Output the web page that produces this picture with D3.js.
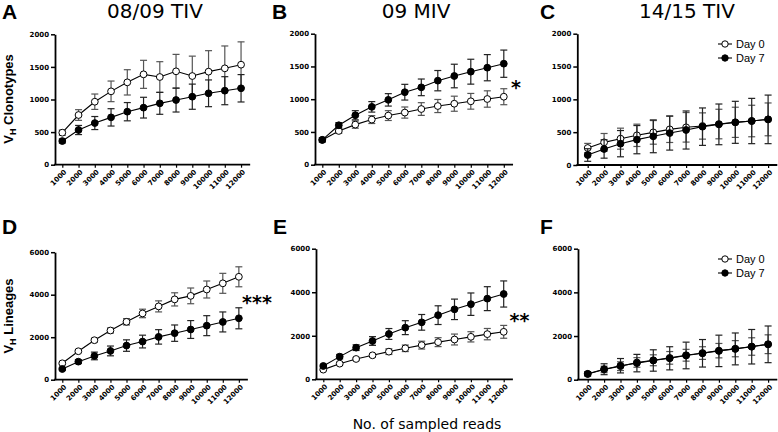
<!DOCTYPE html>
<html>
<head>
<meta charset="utf-8">
<script src="https://cdn.jsdelivr.net/npm/d3@7"></script>
<style>
  html, body { margin: 0; padding: 0; background: #fff; }
  svg { display: block; }
</style>
</head>
<body>
<svg id="chart" width="778" height="432"></svg>
<script>
// ---------------- DATA ----------------
const reads = ["1000","2000","3000","4000","5000","6000","7000","8000","9000","10000","11000","12000"];
const seriesNames = ["Day 0", "Day 7"];

const titles = ["08/09 TIV", "09 MIV", "14/15 TIV"];
const panelLetters = ["A", "B", "C", "D", "E", "F"];
const yLabelTop = "Clonotypes";
const yLabelBottom = "Lineages";
const xTitle = "No. of sampled reads";

const yTicksTop = [0, 500, 1000, 1500, 2000];
const yTicksBottom = [0, 2000, 4000, 6000];

// Panel A (08/09 TIV, clonotypes)
const aDay0    = [491, 762, 966, 1125, 1263, 1386, 1345, 1432, 1360, 1427, 1478, 1534];
const aDay0Err = [40, 82, 118, 158, 194, 215, 235, 260, 305, 322, 343, 350];
const aDay7    = [363, 532, 639, 726, 813, 875, 941, 992, 1043, 1095, 1135, 1172];
const aDay7Err = [30, 70, 100, 133, 140, 159, 168, 184, 193, 205, 215, 210];

// Panel B (09 MIV, clonotypes)
const bDay0    = [377, 515, 612, 689, 750, 796, 850, 896, 931, 968, 1003, 1038];
const bDay0Err = [30, 35, 55, 60, 75, 85, 97, 100, 115, 120, 125, 122];
const bDay7    = [380, 602, 755, 883, 990, 1107, 1181, 1283, 1354, 1420, 1481, 1542];
const bDay7Err = [30, 40, 70, 80, 95, 120, 127, 155, 180, 190, 200, 208];

// Panel C (14/15 TIV, clonotypes)
const cDay0    = [259, 345, 401, 452, 497, 543, 574, 594, 624, 650, 670, 695];
const cDay0Err = [70, 135, 160, 170, 180, 200, 225, 200, 225, 230, 240, 250];
const cDay7    = [152, 244, 325, 386, 437, 487, 533, 584, 619, 650, 670, 695];
const cDay7Err = [96, 140, 200, 215, 250, 260, 290, 285, 310, 320, 345, 370];

// Panel D (08/09 TIV, lineages)
const dDay0    = [772, 1339, 1858, 2315, 2724, 3118, 3450, 3780, 3945, 4245, 4535, 4843];
const dDay0Err = [50, 60, 90, 120, 150, 200, 260, 310, 370, 400, 470, 470];
const dDay7    = [504, 850, 1118, 1354, 1606, 1795, 2015, 2190, 2362, 2543, 2718, 2890];
const dDay7Err = [60, 90, 180, 230, 270, 300, 340, 385, 420, 470, 470, 495];

// Panel E (09 MIV, lineages)
const eDay0    = [444, 719, 934, 1102, 1270, 1424, 1570, 1707, 1828, 1951, 2075, 2181];
const eDay0Err = [40, 60, 70, 80, 130, 150, 180, 205, 250, 235, 260, 295];
const eDay7    = [612, 1041, 1454, 1760, 2082, 2373, 2617, 2947, 3214, 3451, 3705, 3919];
const eDay7Err = [60, 100, 130, 200, 250, 320, 360, 430, 470, 515, 550, 600];

// Panel F (14/15 TIV, lineages)
const fDay0    = [260, 470, 620, 790, 890, 1000, 1120, 1220, 1330, 1420, 1520, 1625];
const fDay0Err = [50, 150, 200, 220, 250, 290, 270, 290, 330, 370, 400, 430];
const fDay7    = [270, 480, 640, 760, 880, 980, 1110, 1210, 1320, 1410, 1510, 1620];
const fDay7Err = [100, 250, 330, 400, 490, 530, 610, 630, 720, 730, 790, 840];

const significance = ["", "*", "", "***", "**", ""];

// ---------------- LAYOUT ----------------
const panels = [
  { d0: aDay0, e0: aDay0Err, d7: aDay7, e7: aDay7Err, ax: 55,    x0: 62.3,  step: 16.25, yTop: 34.3,  yBot: 164.7, max: 2000, ticks: yTicksTop },
  { d0: bDay0, e0: bDay0Err, d7: bDay7, e7: bDay7Err, ax: 315,   x0: 322.3, step: 16.5,  yTop: 33.7,  yBot: 164.7, max: 2000, ticks: yTicksTop },
  { d0: cDay0, e0: cDay0Err, d7: cDay7, e7: cDay7Err, ax: 577.3, x0: 587.7, step: 16.4,  yTop: 33.7,  yBot: 165,   max: 2000, ticks: yTicksTop },
  { d0: dDay0, e0: dDay0Err, d7: dDay7, e7: dDay7Err, ax: 55,    x0: 62.3,  step: 16.05, yTop: 252.2, yBot: 379.7, max: 6000, ticks: yTicksBottom },
  { d0: eDay0, e0: eDay0Err, d7: eDay7, e7: eDay7Err, ax: 316,   x0: 323.3, step: 16.4,  yTop: 248.7, yBot: 379.3, max: 6000, ticks: yTicksBottom },
  { d0: fDay0, e0: fDay0Err, d7: fDay7, e7: fDay7Err, ax: 578,   x0: 587.7, step: 16.4,  yTop: 248.7, yBot: 379.7, max: 6000, ticks: yTicksBottom }
];
const letterPos = [[2, 19], [272, 19], [540, 19], [2, 234], [273, 234], [540, 234]];
const titlePos = [[155, 18], [416, 18], [687, 18]];
const sigPos = [null, [516, 94], null, [257, 309], [519.5, 326.5], null];
const legendPos = [null, null, [725, 44], null, null, [725, 259]];

const svg = d3.select("#chart");
const tickFont = "'DejaVu Sans', sans-serif";

panels.forEach((p, i) => {
  const g = svg.append("g");
  const xLast = p.x0 + p.step * (reads.length - 1);
  const x = d3.scalePoint().domain(reads).range([p.x0, xLast]);
  const y = d3.scaleLinear().domain([0, p.max]).range([p.yBot, p.yTop]);

  // Y axis
  const yAxis = g.append("g").attr("transform", `translate(${p.ax},0)`)
    .call(d3.axisLeft(y).tickValues(p.ticks).tickSize(4).tickSizeOuter(0).tickPadding(2).tickFormat(d3.format("d")));
  yAxis.select(".domain").attr("stroke", "#000").attr("stroke-width", 1.8);
  yAxis.selectAll(".tick line").attr("stroke", "#000").attr("stroke-width", 1.5);
  yAxis.selectAll(".tick text").attr("font-family", tickFont).attr("font-weight", "bold")
    .attr("font-size", 7).attr("fill", "#000");

  // X axis
  const xAxis = g.append("g").attr("transform", `translate(0,${p.yBot})`)
    .call(d3.axisBottom(x).tickSize(3).tickSizeOuter(0));
  xAxis.select(".domain").remove();
  xAxis.selectAll(".tick line").attr("stroke", "#000").attr("stroke-width", 1.2);
  xAxis.selectAll(".tick text")
    .attr("font-family", tickFont).attr("font-weight", "bold").attr("font-size", 7).attr("fill", "#000")
    .attr("text-anchor", "end").attr("y", 0).attr("dy", "0.35em")
    .attr("transform", "translate(2.5,6) rotate(-45)");
  g.append("line")
    .attr("x1", p.ax - 0.9).attr("x2", Math.min(778, xLast + p.step / 2 + 1))
    .attr("y1", p.yBot).attr("y2", p.yBot)
    .attr("stroke", "#000").attr("stroke-width", 1.8);

  // Series
  const series = [
    { vals: p.d0, errs: p.e0, fill: "#fff", bar: "#555" },
    { vals: p.d7, errs: p.e7, fill: "#000", bar: "#222" }
  ];
  series.forEach(s => {
    const pts = reads.map((r, k) => ({ r, v: s.vals[k], e: s.errs[k] }));
    const eb = g.append("g").attr("stroke", s.bar).attr("stroke-width", 1.2).attr("fill", "none");
    pts.forEach(d => {
      const cx = x(d.r);
      const y1 = y(Math.max(0, d.v - d.e)), y2 = y(d.v + d.e);
      eb.append("line").attr("x1", cx).attr("x2", cx).attr("y1", y1).attr("y2", y2);
      eb.append("line").attr("x1", cx - 3.5).attr("x2", cx + 3.5).attr("y1", y1).attr("y2", y1);
      eb.append("line").attr("x1", cx - 3.5).attr("x2", cx + 3.5).attr("y1", y2).attr("y2", y2);
    });
    g.append("path").datum(pts)
      .attr("fill", "none").attr("stroke", "#000").attr("stroke-width", 1.1)
      .attr("d", d3.line().x(d => x(d.r)).y(d => y(d.v)));
    g.selectAll(null).data(pts).enter().append("circle")
      .attr("cx", d => x(d.r)).attr("cy", d => y(d.v)).attr("r", 3.4)
      .attr("fill", s.fill).attr("stroke", "#000").attr("stroke-width", 1);
  });

  // Panel letter
  svg.append("text").attr("x", letterPos[i][0]).attr("y", letterPos[i][1])
    .attr("font-family", "'Liberation Sans', Arial, sans-serif").attr("font-weight", "bold")
    .attr("font-size", 21).attr("fill", "#000").text(panelLetters[i]);

  // Significance
  if (sigPos[i]) {
    svg.append("text").attr("x", sigPos[i][0]).attr("y", sigPos[i][1])
      .attr("text-anchor", "middle").attr("font-family", "'DejaVu Sans', sans-serif")
      .attr("font-weight", "bold").attr("font-size", 19).attr("fill", "#000").text(significance[i]);
  }

  // Legend
  if (legendPos[i]) {
    const [lx, ly] = legendPos[i];
    seriesNames.forEach((name, k) => {
      const yy = ly + k * 14;
      svg.append("line").attr("x1", lx - 7).attr("x2", lx + 7).attr("y1", yy).attr("y2", yy)
        .attr("stroke", "#000").attr("stroke-width", 1.1);
      svg.append("circle").attr("cx", lx).attr("cy", yy).attr("r", 3.2)
        .attr("fill", k === 0 ? "#fff" : "#000").attr("stroke", "#000").attr("stroke-width", 1);
      svg.append("text").attr("x", lx + 11).attr("y", yy).attr("dy", "0.36em")
        .attr("font-family", "'Liberation Sans', Arial, sans-serif").attr("font-size", 11)
        .attr("fill", "#000").text(name);
    });
  }
});

// Column titles
titles.forEach((t, i) => {
  svg.append("text").attr("x", titlePos[i][0]).attr("y", titlePos[i][1])
    .attr("text-anchor", "middle").attr("font-family", "'DejaVu Sans', sans-serif")
    .attr("font-size", 20).attr("fill", "#000").text(t);
});

// Y axis titles with subscript
function yTitle(cx, cy, word) {
  const t = svg.append("text")
    .attr("transform", `translate(${cx},${cy}) rotate(-90)`)
    .attr("text-anchor", "middle")
    .attr("font-family", "'Liberation Sans', Arial, sans-serif").attr("font-weight", "bold")
    .attr("font-size", 13).attr("fill", "#000");
  t.append("tspan").text("V");
  t.append("tspan").attr("font-size", 9).attr("dy", 3).text("H");
  t.append("tspan").attr("dy", -3).text(" " + word);
}
yTitle(12.5, 99, yLabelTop);
yTitle(12.5, 316, yLabelBottom);

// X title
svg.append("text").attr("x", 427).attr("y", 429)
  .attr("text-anchor", "middle").attr("font-family", "'DejaVu Sans', sans-serif")
  .attr("font-size", 14).attr("fill", "#000").text(xTitle);
</script>
</body>
</html>
